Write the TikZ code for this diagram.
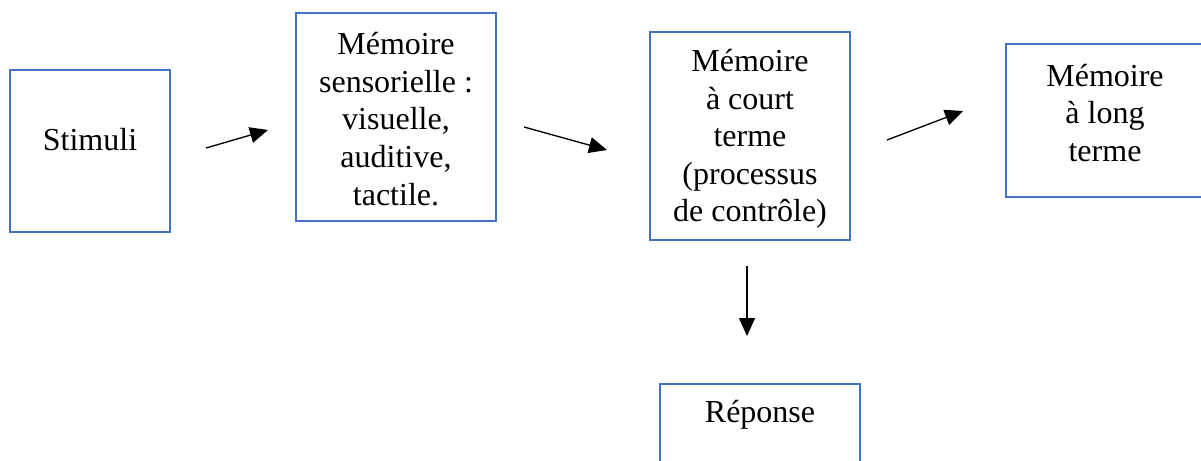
\documentclass[tikz,border=0pt]{standalone}
\usepackage{fontspec}
\setmainfont{Liberation Serif}
\usetikzlibrary{arrows.meta}
\definecolor{boxblue}{HTML}{4472C4}

\tikzset{
  membox/.style={draw=boxblue, line width=2pt, inner sep=0pt},
  memtext/.style={align=center, inner sep=0pt, font=\fontsize{24}{28.2}\selectfont},
  flow/.style={line width=1pt, -{Triangle[length=13.5pt,width=12pt]}}
}

\begin{document}
\begin{tikzpicture}[x=0.75pt, y=-0.75pt]
    \useasboundingbox (0,0) rectangle (1201,460);
    %% Boxes
    \node[membox, minimum width=120pt, minimum height=121.5pt] (stim) at (90,151) {};
    \node[membox, minimum width=150pt, minimum height=156pt] (sens) at (396,117) {};
    \node[membox, minimum width=150pt, minimum height=156pt] (court) at (750,136) {};
    \node[membox, minimum width=165pt, minimum height=114.75pt] (long) at (1116,120.5) {};
    \node[membox, minimum width=150pt, minimum height=72pt] (rep) at (760,432) {};
    %% Texts
    \node[memtext] (stimtxt) at (90,140) {Stimuli};
    \node[memtext] (senstxt) at (396,119) {Mémoire\\sensorielle :\\visuelle,\\auditive,\\tactile.};
    \node[memtext] (courttxt) at (750,139) {Mémoire\\à court\\terme\\(processus\\de contrôle)};
    \node[memtext] (longtxt) at (1105,113) {Mémoire\\à long\\terme};
    \node[memtext] (reptxt) at (760,415) {Réponse};
    %% Arrows
    \coordinate (stim-out) at (206,148);
    \coordinate (sens-in) at (268,130);
    \coordinate (sens-out) at (524,127);
    \coordinate (court-in) at (607,150);
    \coordinate (court-out) at (887,140);
    \coordinate (long-in) at (963,111);
    \coordinate (court-down) at (747,266);
    \coordinate (rep-in) at (747,336);
    \draw[flow] (stim-out) to (sens-in);
    \draw[flow] (sens-out) to (court-in);
    \draw[flow] (court-out) to (long-in);
    \draw[flow] (court-down) to (rep-in);
\end{tikzpicture}
\end{document}
